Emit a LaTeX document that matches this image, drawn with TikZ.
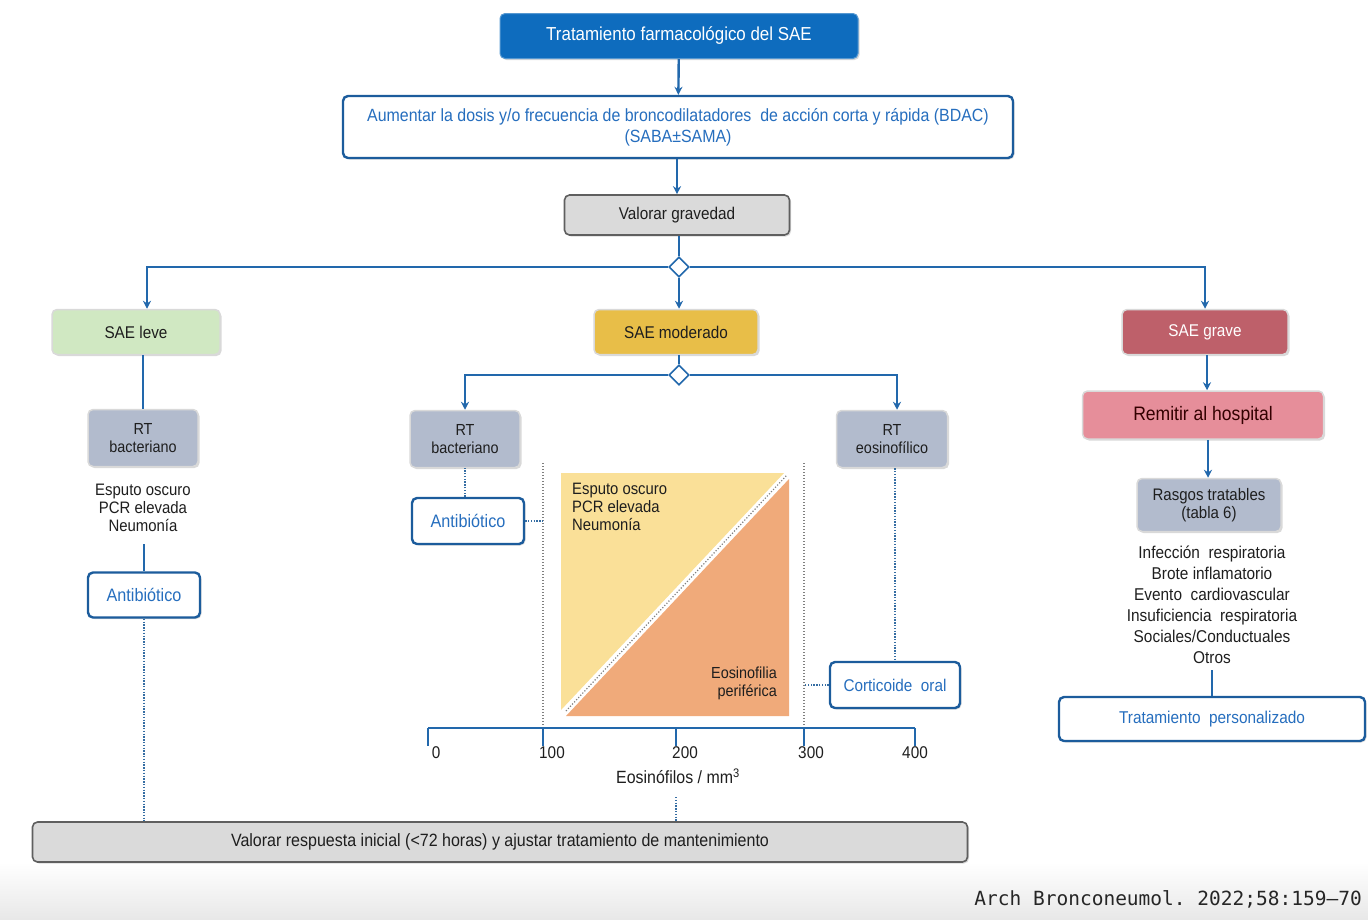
\documentclass[tikz,border=0pt]{standalone}
\usepackage{fontspec}
\setmainfont{Liberation Sans}[FakeStretch=0.9]
\newfontfamily\footfont{DejaVu Sans Mono}
\usetikzlibrary{shapes.geometric,arrows.meta,shadows}
\definecolor{topBlue}{RGB}{14,108,190}
\definecolor{connBlue}{RGB}{34,104,172}
\definecolor{bBorder}{RGB}{28,92,156}
\definecolor{bText}{RGB}{38,110,190}
\definecolor{grayFill}{RGB}{218,218,218}
\definecolor{grayBorder}{RGB}{95,95,95}
\definecolor{leveFill}{RGB}{208,232,194}
\definecolor{modFill}{RGB}{232,190,72}
\definecolor{graveFill}{RGB}{190,96,106}
\definecolor{remFill}{RGB}{230,142,154}
\definecolor{rtFill}{RGB}{178,187,205}
\definecolor{yellowZ}{RGB}{250,224,152}
\definecolor{orangeZ}{RGB}{240,170,122}
\definecolor{txtDark}{RGB}{30,30,30}
\frenchspacing
\begin{document}
\begin{tikzpicture}[x=1pt,y=-1pt,
  base/.style={rounded corners=5pt, align=center, inner sep=2pt,
    drop shadow={shadow xshift=1.5pt, shadow yshift=-1.5pt, opacity=0.3}},
  bluebox/.style={base, fill=white, draw=bBorder, line width=2.4pt, text=bText},
  topbox/.style={base, fill=topBlue, draw=topBlue!70!white, line width=1pt, text=white},
  graybox/.style={base, fill=grayFill, draw=grayBorder, line width=1.6pt, text=txtDark},
  softbox/.style={base, draw=white!85!black, line width=1.5pt, text=txtDark},
  plaintext/.style={align=center, inner sep=0pt, text=txtDark},
  conn/.style={draw=connBlue, line width=2.4pt},
  arr/.style={conn, -{Stealth[length=8pt,width=8pt]}},
  hline/.style={draw=connBlue, line width=1.8pt},
  harr/.style={hline, -{Stealth[length=8pt,width=8pt]}},
  dotb/.style={draw=connBlue!80!gray, line width=1.6pt, dash pattern=on 1.4pt off 1.4pt},
  dotg/.style={draw=gray, line width=1.2pt, dash pattern=on 1.2pt off 1.8pt},
  dia/.style={diamond, draw=connBlue, fill=white, line width=1.6pt, minimum size=20pt, inner sep=0pt},
  f17/.style={font=\fontsize{17}{20}\selectfont},
  f16/.style={font=\fontsize{16}{18}\selectfont}
]
\useasboundingbox (0,0) rectangle (1368,919);
\shade[top color=white, bottom color=black!9] (0,862) rectangle (1368,919);
\node[anchor=base east, inner sep=0pt, text=black!85, font=\footfont\fontsize{19.5}{22}\selectfont] (foot) at (1362,905) {Arch Bronconeumol. 2022;58:159–70};

% top chain
\node[topbox, minimum width=358pt, minimum height=45pt, font=\fontsize{18.8}{22}\selectfont] (top) at (679,36) {Tratamiento farmacológico del SAE};
\node[bluebox, minimum width=670pt, minimum height=62pt, font=\fontsize{17.7}{21}\selectfont] (aum) at (678,127) {Aumentar la dosis y/o frecuencia de broncodilatadores\ \ de acción corta y rápida (BDAC)\\(SABA±SAMA)};
\node[graybox, minimum width=225pt, minimum height=40pt, f17] (grav) at (677,215) {Valorar gravedad};
\node[dia] (d1) at (679,267) {};

% severity
\node[softbox, fill=leveFill, minimum width=168pt, minimum height=45pt, f17] (leve) at (136,332) {SAE leve};
\node[softbox, fill=modFill, minimum width=164pt, minimum height=45pt, f17] (mod) at (676,332) {SAE moderado};
\node[softbox, fill=graveFill, minimum width=166pt, minimum height=45pt, f17, text=white] (grave) at (1205,332) {SAE grave};

\draw[arr] (top) -- (aum);
\draw[arr] (aum.south -| grav.north) -- (grav);
\draw[conn] (d1.north |- grav.south) -- (d1.north);
\draw[harr] (d1.west) -| ([xshift=11pt]leve.north);
\draw[harr] (d1.east) -| (grave.north);
\draw[arr] (d1.south) -- (d1.south |- mod.north);

% left column
\node[softbox, fill=rtFill, minimum width=110pt, minimum height=57pt, f16] (rtb1) at (143,438) {RT\\bacteriano};
\node[plaintext, font=\fontsize{16.6}{18}\selectfont] (list1) at (143,508) {Esputo oscuro\\PCR elevada\\Neumonía};
\node[bluebox, minimum width=112pt, minimum height=45pt, font=\fontsize{18}{20}\selectfont] (ab1) at (144,595) {Antibiótico};
\draw[conn] (rtb1.north |- leve.south) -- (rtb1.north);
\draw[conn, shorten <=12pt] (ab1.north |- list1.south) -- (ab1.north);

% centre column
\node[dia] (d2) at (679,375) {};
\node[softbox, fill=rtFill, minimum width=110pt, minimum height=57pt, f16] (rtb2) at (465,439) {RT\\bacteriano};
\node[softbox, fill=rtFill, minimum width=111pt, minimum height=57pt, f16] (rte) at (892,439) {RT\\eosinofílico};
\draw[conn] (d2.north |- mod.south) -- (d2.north);
\draw[harr] (d2.west) -| (rtb2.north);
\draw[harr] (d2.east) -| ([xshift=5pt]rte.north);
\node[bluebox, minimum width=112pt, minimum height=46pt, font=\fontsize{18}{20}\selectfont] (ab2) at (468,521) {Antibiótico};
\node[bluebox, minimum width=130pt, minimum height=46pt, f17] (cort) at (895,685) {Corticoide\ \ oral};
\draw[dotb] (ab2.north -| rtb2.south) -- (rtb2.south);
\draw[dotb] ([xshift=3pt]rte.south) -- ([xshift=3pt]rte.south |- cort.north);

% chart
\fill[yellowZ] (561,473) -- (784,473) -- (561,710) -- cycle;
\fill[orangeZ] (789,479) -- (789,716) -- (566,716) -- cycle;
\draw[dotg] (566,711) -- (787,475);
\coordinate (v1t) at (543,463);
\coordinate (v1b) at (543,728);
\coordinate (v3t) at (804,463);
\coordinate (v3b) at (804,728);
\draw[dotg] (v1t) -- (v1b);
\draw[dotg] (v3t) -- (v3b);
\draw[dotb] (ab2.east) -- (ab2.east -| v1t);
\draw[dotb] (cort.west) -- (cort.west -| v3t);
\node[plaintext, anchor=north west, align=left, font=\fontsize{16.5}{18}\selectfont] (zt1) at (572,483) {Esputo oscuro\\PCR elevada\\Neumonía};
\node[plaintext, anchor=south east, align=right, f16] (zt2) at (777,700) {Eosinofilia\\periférica};

% axis
\coordinate (ax0) at (428,728);
\coordinate (ax4) at (915,728);
\draw[hline] (ax0) -- (ax4);
\foreach \xx/\lab in {428/0, 543/100, 676/200, 804/300, 915/400}{
  \draw[hline] (\xx,728) -- (\xx,746);
}
\node[plaintext, f17] (l0) at (436,753) {0};
\node[plaintext, f17] (l1) at (552,753) {100};
\node[plaintext, f17] (l2) at (685,753) {200};
\node[plaintext, f17] (l3) at (811,753) {300};
\node[plaintext, f17] (l4) at (915,753) {400};
\node[plaintext, font=\fontsize{17.7}{20}\selectfont] (axl) at (678,776) {Eosinófilos / mm\textsuperscript{3}};

% right column
\node[softbox, fill=remFill, minimum width=241pt, minimum height=48pt, font=\fontsize{19.5}{22}\selectfont, text=black!80!red] (rem) at (1203,415) {Remitir al hospital};
\node[softbox, fill=rtFill, minimum width=144pt, minimum height=53pt, font=\fontsize{16.7}{18}\selectfont] (ras) at (1209,505) {Rasgos tratables\\(tabla 6)};
\node[plaintext, font=\fontsize{17.1}{21}\selectfont, align=center] (list2) at (1212,605) {Infección\ \ respiratoria\\Brote inflamatorio\\Evento\ \ cardiovascular\\Insuficiencia\ \ respiratoria\\Sociales/Conductuales\\Otros};
\node[bluebox, minimum width=306pt, minimum height=44pt, font=\fontsize{17.1}{20}\selectfont] (tp) at (1212,719) {Tratamiento\ \ personalizado};
\draw[arr] ([xshift=2pt]grave.south) -- ([xshift=2pt]grave.south |- rem.north);
\draw[arr] ([xshift=5pt]rem.south) -- ([xshift=5pt]rem.south |- ras.north);
\draw[conn, shorten <=6pt] (tp.north |- list2.south) -- (tp.north);

% bottom
\node[graybox, minimum width=935pt, minimum height=40pt, font=\fontsize{17.8}{20}\selectfont] (resp) at (500,842) {Valorar respuesta inicial (<72 horas) y ajustar tratamiento de mantenimiento};
\draw[dotb] (ab1.south) -- (ab1.south |- resp.north);
\coordinate (axd) at (676,797);
\draw[dotb] (axd) -- (axd |- resp.north);
\end{tikzpicture}
\end{document}
